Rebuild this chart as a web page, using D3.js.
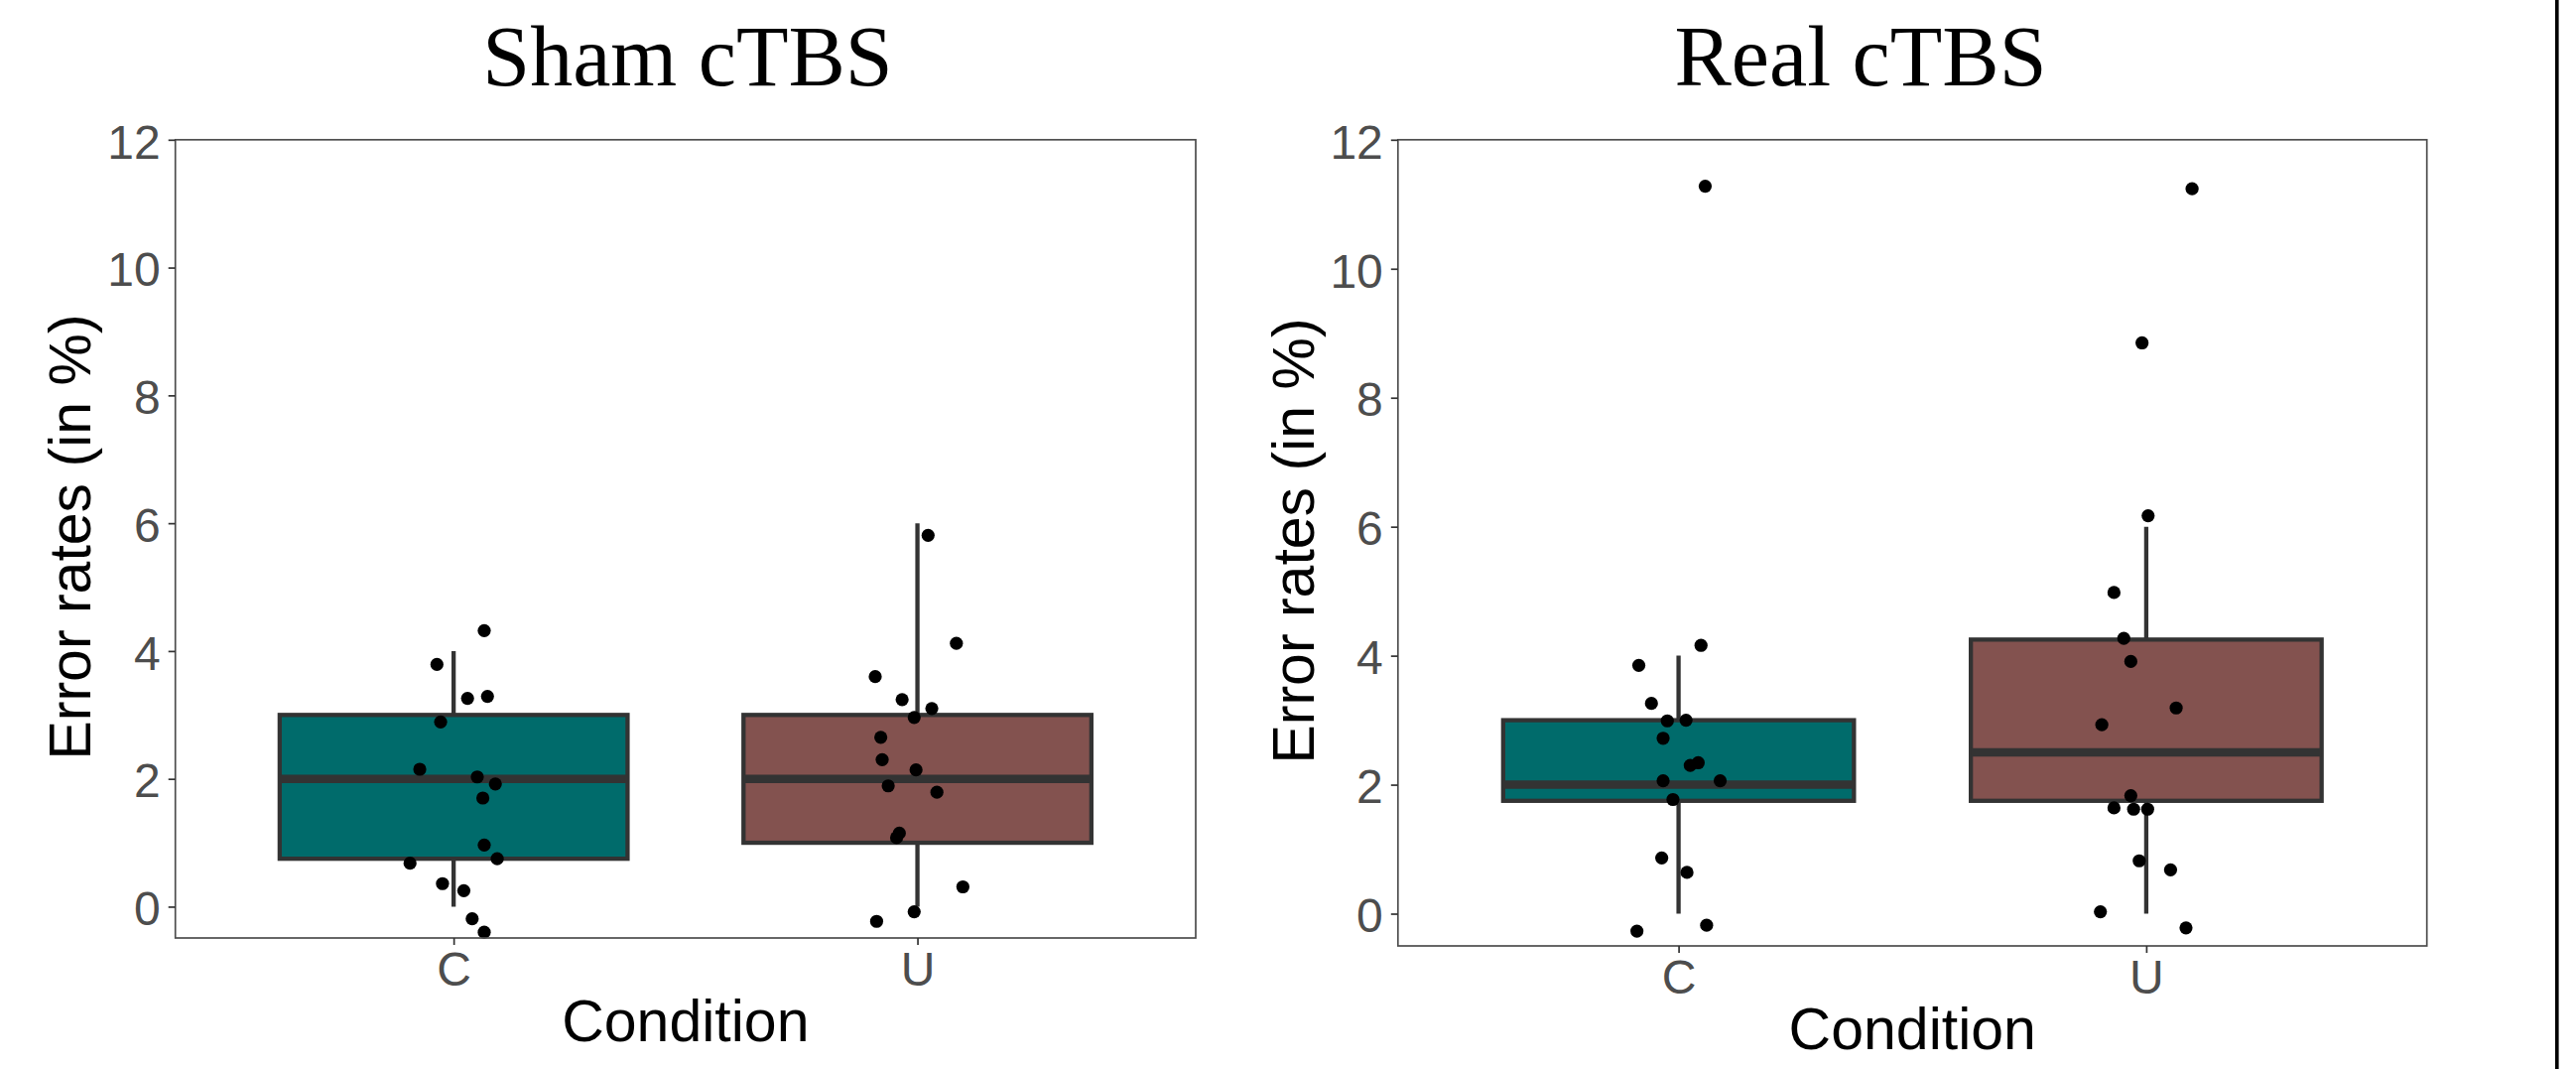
<!DOCTYPE html>
<html>
<head>
<meta charset="utf-8">
<script src="https://cdn.jsdelivr.net/npm/d3@7"></script>
<style>
  html, body { margin: 0; padding: 0; background: #fff; }
  svg { display: block; }
</style>
</head>
<body>
<div id="chart"></div>
<script>
// categories and tick values
const conditions = ["C", "U"];
const yTicks = [0, 2, 4, 6, 8, 10, 12];

// box stats per condition (C, U)
const shamQ1 = [0.75, 1.0];
const shamMedian = [2.0, 2.0];
const shamQ3 = [3.0, 3.0];
const shamLow = [0, 0];
const shamHigh = [4.0, 6.0];

const realQ1 = [1.75, 1.75];
const realMedian = [2.0, 2.5];
const realQ3 = [3.0, 4.25];
const realLow = [0, 0];
const realHigh = [4.0, 6.0];

// jittered subject points: value and horizontal jitter (in category units)
const shamC = [4.32, 3.79, 3.26, 3.29, 2.89, 2.15, 2.03, 1.92, 1.70, 0.965, 0.68, 0.75, 0.36, 0.25, -0.19, -0.40];
const shamCJitter = [0.066, -0.036, 0.030, 0.073, -0.028, -0.073, 0.051, 0.090, 0.063, 0.066, -0.094, 0.094, -0.024, 0.022, 0.040, 0.066];
const shamU = [4.12, 3.60, 3.24, 3.10, 2.96, 2.65, 2.30, 2.14, 1.89, 1.79, 1.15, 1.08, 0.31, -0.08, -0.23, 5.81];
const shamUJitter = [0.084, -0.091, -0.033, 0.031, -0.007, -0.079, -0.076, -0.003, -0.063, 0.042, -0.039, -0.045, 0.098, -0.007, -0.088, 0.023];

const realC = [4.16, 3.85, 3.26, 2.99, 3.00, 2.72, 2.34, 2.30, 2.06, 2.06, 1.77, 0.865, 0.64, -0.18, -0.27, 11.28];
const realCJitter = [0.048, -0.085, -0.058, -0.024, 0.016, -0.033, 0.042, 0.025, -0.033, 0.089, -0.012, -0.036, 0.018, 0.060, -0.089, 0.057];
const realU = [4.98, 4.27, 3.91, 3.19, 2.93, 1.83, 1.64, 1.62, 1.62, 0.82, 0.68, 0.03, -0.22, 11.24, 8.85, 6.17];
const realUJitter = [-0.069, -0.048, -0.033, 0.064, -0.095, -0.033, -0.069, -0.027, 0.003, -0.015, 0.052, -0.098, 0.085, 0.098, -0.009, 0.004];

const fills = ["#006b6b", "#83524f"];

const W = 2596, H = 1077;
const svg = d3.select("#chart").append("svg")
  .attr("width", W)
  .attr("height", H);

svg.append("rect").attr("width", W).attr("height", H).attr("fill", "#fff");

function drawPanel(p) {
  const y = d3.scaleLinear().domain([p.yMin, 12]).range([p.bottom, p.top]);
  const x = d3.scalePoint().domain(conditions).range([p.left, p.right]).padding(0.6);
  const step = x.step();
  const bw = step * 0.75;

  const g = svg.append("g");

  // title
  svg.append("text")
    .attr("x", p.titleX)
    .attr("y", 86)
    .attr("text-anchor", "middle")
    .attr("font-family", "'Liberation Serif', 'Times New Roman', serif")
    .attr("font-size", 86)
    .attr("fill", "#000")
    .text(p.title);

  const boxes = conditions.map((c, i) => ({
    cond: c, q1: p.q1[i], med: p.median[i], q3: p.q3[i], lo: p.low[i], hi: p.high[i], fill: fills[i]
  }));

  // whiskers
  g.selectAll(".whisker").data(boxes).join("line")
    .attr("x1", d => x(d.cond)).attr("x2", d => x(d.cond))
    .attr("y1", d => y(d.lo)).attr("y2", d => y(d.hi))
    .attr("stroke", "#333").attr("stroke-width", 4.3);

  // boxes
  g.selectAll(".box").data(boxes).join("rect")
    .attr("x", d => x(d.cond) - bw / 2)
    .attr("width", bw)
    .attr("y", d => y(d.q3))
    .attr("height", d => y(d.q1) - y(d.q3))
    .attr("fill", d => d.fill)
    .attr("stroke", "#333")
    .attr("stroke-width", 4.3);

  // medians
  g.selectAll(".median").data(boxes).join("line")
    .attr("x1", d => x(d.cond) - bw / 2).attr("x2", d => x(d.cond) + bw / 2)
    .attr("y1", d => y(d.med)).attr("y2", d => y(d.med))
    .attr("stroke", "#333").attr("stroke-width", 8.6);

  // jittered points
  const pts = [];
  conditions.forEach((c, i) => {
    p.points[i].forEach((v, j) => pts.push({ cond: c, v, jit: p.jitter[i][j] }));
  });
  g.selectAll(".pt").data(pts).join("circle")
    .attr("cx", d => x(d.cond) + d.jit * step)
    .attr("cy", d => y(d.v))
    .attr("r", 6.6)
    .attr("fill", "#000");

  // panel border
  svg.append("rect")
    .attr("x", p.left).attr("y", p.top)
    .attr("width", p.right - p.left).attr("height", p.bottom - p.top)
    .attr("fill", "none").attr("stroke", "#4d4d4d").attr("stroke-width", 1.7);

  // y axis
  const ya = svg.append("g")
    .attr("transform", `translate(${p.left},0)`)
    .call(d3.axisLeft(y).tickValues(yTicks).tickSize(7).tickPadding(8));
  ya.select(".domain").remove();
  ya.selectAll("line").attr("stroke", "#333").attr("stroke-width", 1.7);
  ya.selectAll("text")
    .attr("font-family", "'Liberation Sans', Arial, sans-serif")
    .attr("font-size", 48)
    .attr("fill", "#4d4d4d")
    .attr("dy", "0.38em");

  // x axis
  const xa = svg.append("g")
    .attr("transform", `translate(0,${p.bottom})`)
    .call(d3.axisBottom(x).tickSize(7).tickPadding(7));
  xa.select(".domain").remove();
  xa.selectAll("line").attr("stroke", "#333").attr("stroke-width", 1.7);
  xa.selectAll("text")
    .attr("font-family", "'Liberation Sans', Arial, sans-serif")
    .attr("font-size", 48)
    .attr("fill", "#4d4d4d");

  // axis titles
  svg.append("text")
    .attr("x", (p.left + p.right) / 2)
    .attr("y", p.bottom + 104)
    .attr("text-anchor", "middle")
    .attr("font-family", "'Liberation Sans', Arial, sans-serif")
    .attr("font-size", 59)
    .attr("fill", "#000")
    .text("Condition");

  svg.append("text")
    .attr("transform", `translate(${p.yTitleX},${p.yTitleY}) rotate(-90)`)
    .attr("text-anchor", "middle")
    .attr("font-family", "'Liberation Sans', Arial, sans-serif")
    .attr("font-size", 59)
    .attr("fill", "#000")
    .text("Error rates (in %)");
}

drawPanel({
  title: "Sham cTBS", titleX: 693,
  left: 176.7, right: 1205, top: 140.8, bottom: 945, yMin: -0.49,
  yTitleX: 91, yTitleY: 541,
  q1: shamQ1, median: shamMedian, q3: shamQ3, low: shamLow, high: shamHigh,
  points: [shamC, shamU], jitter: [shamCJitter, shamUJitter]
});

drawPanel({
  title: "Real cTBS", titleX: 1875,
  left: 1408.8, right: 2445.7, top: 140.8, bottom: 953, yMin: -0.5,
  yTitleX: 1324, yTitleY: 545,
  q1: realQ1, median: realMedian, q3: realQ3, low: realLow, high: realHigh,
  points: [realC, realU], jitter: [realCJitter, realUJitter]
});

// page edge line on the right
svg.append("rect")
  .attr("x", 2575).attr("y", 0)
  .attr("width", 3.6).attr("height", H)
  .attr("fill", "#000");
</script>
</body>
</html>
